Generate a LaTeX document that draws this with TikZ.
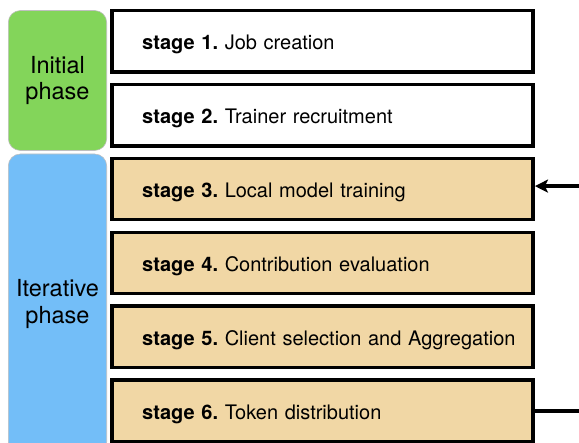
\documentclass[tikz,border=0pt]{standalone}
\usepackage{fontspec}
\setmainfont{TeX Gyre Heros}
\frenchspacing
\usetikzlibrary{positioning,calc,arrows.meta}

\definecolor{phasegreen}{HTML}{83D55A}
\definecolor{phaseblue}{HTML}{73BEF8}
\definecolor{stagetan}{HTML}{F1D7A5}

\tikzset{
  stagebox/.style={draw, line width=3.5pt, minimum width=421pt, minimum height=61.3pt,
    text width=361pt, inner xsep=30pt, text height=20pt, text depth=3pt, align=left,
    font=\fontsize{20}{24}\selectfont},
  phasebox/.style={draw=black!25, line width=0.6pt, rounded corners=12pt,
    minimum width=98.4pt, align=center, font=\fontsize{23.5}{26.5}\selectfont},
  looparrow/.style={line width=3.5pt, -{Stealth[length=13pt,width=13pt,inset=3pt]}}
}

\begin{document}
\begin{tikzpicture}[x=1pt, y=1pt]
    \useasboundingbox (0,0) rectangle (579,-443);
    \clip (0,0) rectangle (579,-443);

    % phases
    \node [phasebox, fill=phasegreen, minimum height=140pt] (initial) at (57.5,-80.5) {Initial\\phase};
    \node [phasebox, fill=phaseblue, minimum height=300pt] (iterative) at (57.5,-304) {Iterative\\phase};

    % stages
    \foreach \i/\lab/\col in {1/Job creation/white, 2/Trainer recruitment/white, 3/Local model training/stagetan, 4/Contribution evaluation/stagetan, 5/Client selection and Aggregation/stagetan, 6/Token distribution/stagetan} {
        \node [stagebox, fill=\col] (s\i) at (322.7, {-41.3-(\i-1)*73.9}) {\mbox{\textbf{stage \i.} \lab}};
    }

    % loop back from stage 6 to stage 3
    \coordinate (loopturn) at ([xshift=80pt]s6.east);
    \draw [looparrow] (s6.east) -- (loopturn) |- ([yshift=3pt]s3.east);
\end{tikzpicture}
\end{document}
